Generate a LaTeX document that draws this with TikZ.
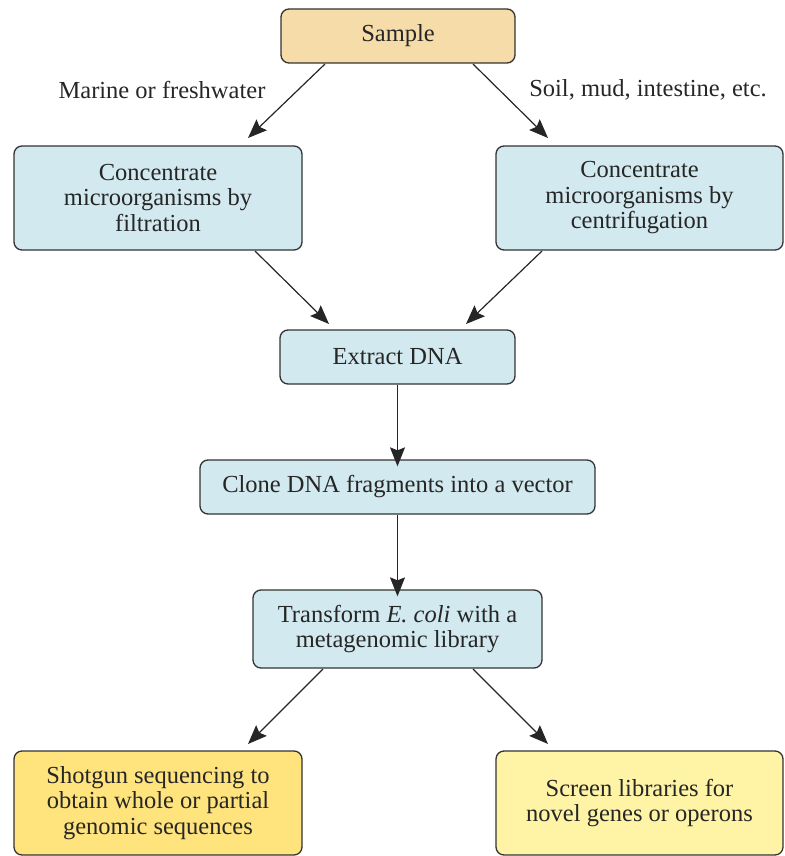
\documentclass[tikz,border=0pt]{standalone}
\usepackage{fontspec}
\setmainfont{Liberation Serif}
\usetikzlibrary{arrows.meta}
\definecolor{samplefill}{HTML}{F5DCA8}
\definecolor{bluefill}{HTML}{D2E9EF}
\definecolor{goldfill}{HTML}{FFE47E}
\definecolor{paleyellow}{HTML}{FFF4A6}
\definecolor{edge}{HTML}{333333}
\begin{document}
\begin{tikzpicture}[x=1pt,y=-1pt,
  box/.style={draw=edge,line width=1.3pt,rounded corners=8pt,align=center,
    font=\fontsize{24.5}{25.5}\selectfont,text=black!85,inner sep=0pt},
  conn/.style={draw=black!85,line width=1.2pt,-{Stealth[length=19pt,width=15pt,inset=3pt]}},
  lbl/.style={font=\fontsize{24.5}{25.5}\selectfont,text=black!85}]
\useasboundingbox (0,0) rectangle (784,856);
\node[box,fill=samplefill,minimum width=234pt,minimum height=54pt] (sample) at (398,36) {Sample};
\node[box,fill=bluefill,minimum width=288pt,minimum height=104pt] (filt) at (158,198) {Concentrate\\microorganisms by\\filtration};
\node[box,fill=bluefill,minimum width=287pt,minimum height=104pt] (cent) at (639.5,198) {Concentrate\\microorganisms by\\centrifugation};
\node[box,fill=bluefill,minimum width=235pt,minimum height=54pt] (extract) at (397.5,357) {Extract DNA};
\node[box,fill=bluefill,minimum width=395pt,minimum height=54pt] (clone) at (397.5,487) {Clone DNA fragments into a vector};
\node[box,fill=bluefill,minimum width=289pt,minimum height=78pt] (transform) at (397.5,629) {Transform \textit{E.\ coli} with a\\metagenomic library};
\node[box,fill=goldfill,minimum width=288pt,minimum height=104pt] (shotgun) at (158,803) {Shotgun sequencing to\\obtain whole or partial\\genomic sequences};
\node[box,fill=paleyellow,minimum width=287pt,minimum height=104pt] (screen) at (639.5,803) {Screen libraries for\\novel genes or operons};
\node[lbl] (marine) at (162,90) {Marine or freshwater};
\node[lbl] (soil) at (648,90) {Soil, mud, intestine, etc.};
\coordinate (s1) at (325,64);
\coordinate (s2) at (473,64);
\coordinate (f1) at (248,138);
\coordinate (c1) at (548,138);
\coordinate (f2) at (255,251);
\coordinate (c2) at (542,251);
\coordinate (e1) at (329,324);
\coordinate (e2) at (466,324);
\coordinate (t1) at (323,669);
\coordinate (t2) at (473,669);
\coordinate (g1) at (248,744);
\coordinate (g2) at (548,744);
\draw[conn] (s1) -- (f1);
\draw[conn] (s2) -- (c1);
\draw[conn] (f2) -- (e1);
\draw[conn] (c2) -- (e2);
\draw[conn] (extract.south) -- ([yshift=-7pt]clone.north);
\draw[conn] (clone.south) -- ([yshift=-7pt]transform.north);
\draw[conn] (t1) -- (g1);
\draw[conn] (t2) -- (g2);
\end{tikzpicture}
\end{document}
